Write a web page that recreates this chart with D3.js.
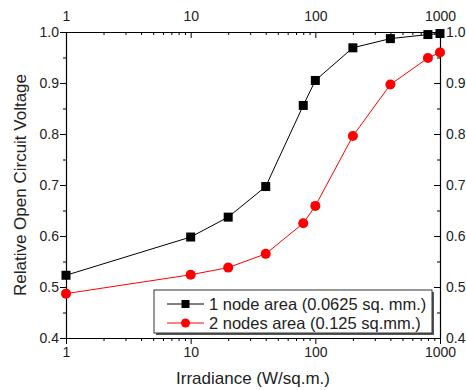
<!DOCTYPE html>
<html><head><meta charset="utf-8">
<script src="https://cdn.jsdelivr.net/npm/d3@7"></script>
<style>body{margin:0;background:#fff}svg{display:block;font-family:"Liberation Sans",Arial,sans-serif}</style>
</head><body><svg id="c" width="466" height="390"></svg>
<script>
const irradiance = [1, 10, 20, 40, 80, 100, 200, 400, 800, 1000];
const oneNode = [0.523, 0.598, 0.637, 0.697, 0.856, 0.905, 0.969, 0.987, 0.995, 0.997];
const twoNodes = [0.487, 0.524, 0.538, 0.565, 0.625, 0.659, 0.796, 0.897, 0.949, 0.960];
const xTicks = [1, 10, 100, 1000];
const yTicks = [0.4, 0.5, 0.6, 0.7, 0.8, 0.9, 1.0];
const seriesNames = ["1 node area (0.0625 sq. mm.)", "2 nodes area (0.125 sq.mm.)"];

const svg = d3.select("#c");
const L = 66, R = 440, T = 32, B = 338;
const x = d3.scaleLog().domain([1, 1000]).range([L, R]);
const y = d3.scaleLinear().domain([0.4, 1.0]).range([B, T]);

const minorX = [];
for (let d = 1; d < 1000; d *= 10) for (let k = 2; k <= 9; k++) minorX.push(d * k);
const minorY = d3.range(0.45, 1.0, 0.1);

function styleAxis(g) {
  g.selectAll("path").attr("stroke", "#000").attr("stroke-width", 1.2);
  g.selectAll("line").attr("stroke", "#000");
  g.selectAll("text").attr("font-size", 14).attr("fill", "#222").attr("font-family", '"Liberation Sans",Arial,sans-serif');
}
const fmtX = d => String(d);
const fmtY = d3.format(".1f");

const gb = svg.append("g").attr("transform", `translate(0,${B})`)
  .call(d3.axisBottom(x).tickValues(xTicks).tickFormat(fmtX).tickSize(6).tickSizeOuter(0).tickPadding(3));
styleAxis(gb);
svg.append("g").attr("transform", `translate(0,${B})`)
  .call(d3.axisBottom(x).tickValues(minorX).tickFormat("").tickSize(3).tickSizeOuter(0))
  .call(g => { g.select("path").remove(); g.selectAll("line").attr("stroke", "#000"); });
const gt = svg.append("g").attr("transform", `translate(0,${T})`)
  .call(d3.axisTop(x).tickValues(xTicks).tickFormat(fmtX).tickSizeInner(-6).tickSizeOuter(0).tickPadding(11));
styleAxis(gt);
svg.append("g").attr("transform", `translate(0,${T})`)
  .call(d3.axisTop(x).tickValues(minorX).tickFormat("").tickSize(-3).tickSizeOuter(0))
  .call(g => { g.select("path").remove(); g.selectAll("line").attr("stroke", "#000"); });
const gl = svg.append("g").attr("transform", `translate(${L},0)`)
  .call(d3.axisLeft(y).tickValues(yTicks).tickFormat(fmtY).tickSize(6).tickSizeOuter(0).tickPadding(1));
styleAxis(gl);
svg.append("g").attr("transform", `translate(${L},0)`)
  .call(d3.axisLeft(y).tickValues(minorY).tickFormat("").tickSize(3).tickSizeOuter(0))
  .call(g => { g.select("path").remove(); g.selectAll("line").attr("stroke", "#000"); });
const gr = svg.append("g").attr("transform", `translate(${R},0)`)
  .call(d3.axisRight(y).tickValues(yTicks).tickFormat(fmtY).tickSizeInner(-6).tickSizeOuter(0).tickPadding(6));
styleAxis(gr);
svg.append("g").attr("transform", `translate(${R},0)`)
  .call(d3.axisRight(y).tickValues(minorY).tickFormat("").tickSize(-3).tickSizeOuter(0))
  .call(g => { g.select("path").remove(); g.selectAll("line").attr("stroke", "#000"); });

svg.append("text").attr("x", 253).attr("y", 384).attr("text-anchor", "middle")
  .attr("font-size", 17).attr("fill", "#222").text("Irradiance (W/sq.m.)");
svg.append("text").attr("transform", `translate(26,${(T + B) / 2}) rotate(-90)`).attr("text-anchor", "middle")
  .attr("font-size", 17).attr("fill", "#222").text("Relative Open Circuit Voltage");

const line = d3.line().x(d => x(d[0])).y(d => y(d[1]));
const colors = ["#000000", "#ff0000"];
const datasets = [oneNode, twoNodes];

datasets.forEach((vals, i) => {
  const pts = irradiance.map((d, j) => [d, vals[j]]);
  svg.append("path").datum(pts).attr("d", line).attr("fill", "none")
    .attr("stroke", colors[i]).attr("stroke-width", 1);
  if (i === 0) {
    svg.append("g").selectAll("rect").data(pts).join("rect")
      .attr("x", d => x(d[0]) - 4.5).attr("y", d => y(d[1]) - 4.5)
      .attr("width", 9).attr("height", 9).attr("fill", "#000");
  } else {
    svg.append("g").selectAll("circle").data(pts).join("circle")
      .attr("cx", d => x(d[0])).attr("cy", d => y(d[1])).attr("r", 5).attr("fill", "#ff0000");
  }
});

const lg = svg.append("g");
lg.append("rect").attr("x", 156).attr("y", 292).attr("width", 278).attr("height", 43).attr("fill", "#555");
lg.append("rect").attr("x", 154).attr("y", 290).attr("width", 278).attr("height", 43)
  .attr("fill", "#fff").attr("stroke", "#333").attr("stroke-width", 1);
seriesNames.forEach((name, i) => {
  const yy = 304 + i * 19;
  lg.append("line").attr("x1", 167).attr("x2", 204).attr("y1", yy).attr("y2", yy)
    .attr("stroke", colors[i]).attr("stroke-width", 1);
  if (i === 0) lg.append("rect").attr("x", 185.5 - 4).attr("y", yy - 4).attr("width", 8).attr("height", 8).attr("fill", "#000");
  else lg.append("circle").attr("cx", 185.5).attr("cy", yy).attr("r", 4.5).attr("fill", "#ff0000");
  lg.append("text").attr("x", 209).attr("y", yy + 5.5).attr("font-size", 16.5).attr("fill", "#222").text(name);
});
</script></body></html>
